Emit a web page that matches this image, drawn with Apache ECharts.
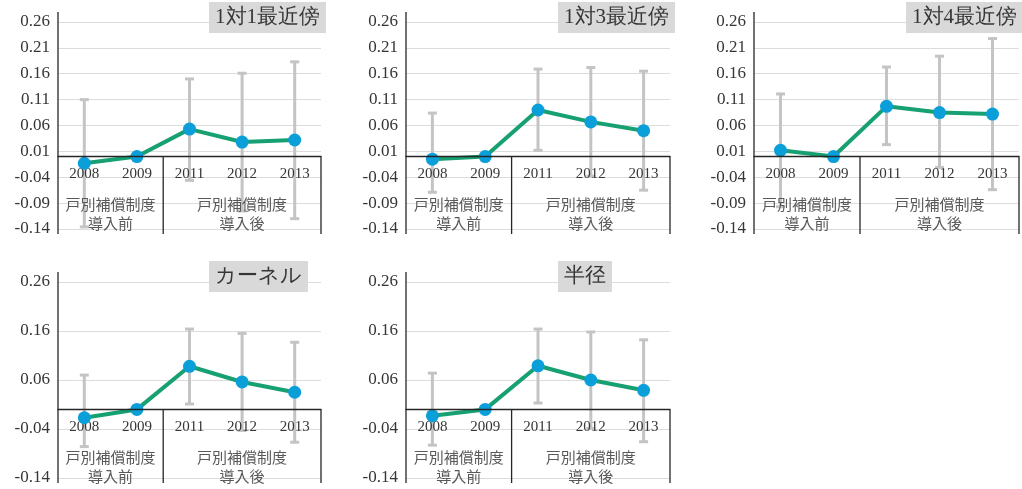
<!DOCTYPE html>
<html>
<head>
<meta charset="utf-8">
<script src="https://cdn.jsdelivr.net/npm/echarts@6/dist/echarts.min.js"></script>
<style>
  html, body { margin: 0; padding: 0; background: #ffffff; }
  #chart { width: 1022px; height: 489px; }
</style>
</head>
<body>
<div id="chart"></div>
<script>
// Survey years (2010 is not part of the comparison)
const years = ['2008', '2009', '2011', '2012', '2013'];

// Period groups shown under the year labels: [first year index, last year index, label]
const periods = [
  [0, 1, '戸別補償制度\n導入前'],
  [2, 4, '戸別補償制度\n導入後']
];

// Panel titles (matching methods)
const titles = ['1対1最近傍', '1対3最近傍', '1対4最近傍', 'カーネル', '半径'];

// Value-axis ranges: [min, max, interval]
const rangeTop = [-0.14, 0.26, 0.05];
const rangeBottom = [-0.14, 0.26, 0.10];

// Estimates and confidence bounds per method (2009 is the reference year)
const estNN1 = [-0.013, 0, 0.053, 0.028, 0.032];
const lowNN1 = [-0.136, null, -0.046, -0.105, -0.120];
const highNN1 = [0.110, null, 0.150, 0.161, 0.183];

const estNN3 = [-0.005, 0, 0.090, 0.067, 0.050];
const lowNN3 = [-0.069, null, 0.012, -0.038, -0.065];
const highNN3 = [0.084, null, 0.169, 0.172, 0.165];

const estNN4 = [0.012, 0, 0.097, 0.085, 0.082];
const lowNN4 = [-0.097, null, 0.023, -0.021, -0.064];
const highNN4 = [0.121, null, 0.173, 0.194, 0.228];

const estKernel = [-0.017, 0, 0.088, 0.056, 0.035];
const lowKernel = [-0.076, null, 0.011, -0.043, -0.067];
const highKernel = [0.070, null, 0.164, 0.155, 0.137];

const estRadius = [-0.013, 0, 0.089, 0.060, 0.039];
const lowRadius = [-0.073, null, 0.013, -0.039, -0.066];
const highRadius = [0.074, null, 0.164, 0.158, 0.142];

const panels = [
  { est: estNN1, low: lowNN1, high: highNN1, range: rangeTop },
  { est: estNN3, low: lowNN3, high: highNN3, range: rangeTop },
  { est: estNN4, low: lowNN4, high: highNN4, range: rangeTop },
  { est: estKernel, low: lowKernel, high: highKernel, range: rangeBottom },
  { est: estRadius, low: lowRadius, high: highRadius, range: rangeBottom }
];

// Layout of the five plot areas
const grids = [
  { left: 58, top: 22, width: 263, height: 207 },
  { left: 406, top: 22, width: 264, height: 207 },
  { left: 754, top: 22, width: 265, height: 207 },
  { left: 58, top: 282, width: 263, height: 196 },
  { left: 406, top: 282, width: 264, height: 196 }
];
const titlePos = [
  { left: 209, top: 2 },
  { left: 558, top: 2 },
  { left: 906, top: 2 },
  { left: 209, top: 261 },
  { left: 558, top: 261 }
];

const SERIF = 'Liberation Serif';
const GOTHIC = 'Noto Sans CJK JP';
const TEXT = '#363636';
const LINE_GREEN = '#17a071';
const DOT_BLUE = '#0b9fda';
const BAR_GRAY = '#c4c4c4';
const RULE = '#262626';

const chart = echarts.init(document.getElementById('chart'), null, { renderer: 'canvas' });

// Error bar: vertical whisker with short caps
function renderErrorBar(params, api) {
  const i = api.value(0);
  const top = api.coord([i, api.value(2)]);
  const bot = api.coord([i, api.value(1)]);
  const cap = 4.5;
  const style = { stroke: BAR_GRAY, lineWidth: 3 };
  return {
    type: 'group',
    children: [
      { type: 'line', shape: { x1: top[0], y1: top[1], x2: bot[0], y2: bot[1] }, style },
      { type: 'line', shape: { x1: top[0] - cap, y1: top[1], x2: top[0] + cap, y2: top[1] }, style },
      { type: 'line', shape: { x1: bot[0] - cap, y1: bot[1], x2: bot[0] + cap, y2: bot[1] }, style }
    ]
  };
}

// Year captions hanging just under the zero line
function renderYear(params, api) {
  const p = api.coord([api.value(0), 0]);
  return {
    type: 'text',
    x: p[0],
    y: p[1] + 18,
    style: {
      text: years[api.value(0)],
      fill: TEXT,
      font: '15px ' + SERIF,
      align: 'center',
      verticalAlign: 'middle'
    }
  };
}

// Period table under the zero line: box rules and group captions
function renderPeriods(params, api) {
  const band = api.size([1, 0])[0];
  const cs = params.coordSys;
  const left = api.coord([api.value(0), 0])[0] - band / 2;
  const right = api.coord([api.value(1), 0])[0] + band / 2;
  const zeroY = api.coord([0, 0])[1];
  const bottom = cs.y + cs.height + 5;
  const rule = { stroke: RULE, lineWidth: 1.3 };
  const children = [];
  if (params.dataIndex === 0) {
    // value-axis rule, running a little past both ends of the plot
    children.push({ type: 'line', shape: { x1: left, y1: cs.y - 10, x2: left, y2: bottom }, style: rule });
  }
  children.push({ type: 'line', shape: { x1: right, y1: zeroY, x2: right, y2: bottom }, style: rule });
  children.push({
    type: 'text',
    x: (left + right) / 2,
    y: zeroY + 57,
    style: {
      text: api.value(2),
      fill: '#595959',
      font: '15px ' + GOTHIC,
      align: 'center',
      verticalAlign: 'middle',
      lineHeight: 19
    }
  });
  return { type: 'group', children };
}

const option = {
  backgroundColor: '#ffffff',
  animation: false,
  title: titles.map((t, k) => ({
    text: t,
    left: titlePos[k].left,
    top: titlePos[k].top,
    backgroundColor: '#d9d9d9',
    padding: [5, 6, 5, 6],
    textStyle: { fontFamily: SERIF, fontSize: 21, fontWeight: 'normal', color: TEXT }
  })),
  grid: grids.map(g => Object.assign({ containLabel: false, outerBoundsMode: 'none' }, g)),
  xAxis: panels.map((p, k) => ({
    type: 'category',
    gridIndex: k,
    data: years,
    boundaryGap: true,
    axisLine: { onZero: true, lineStyle: { color: RULE, width: 1.3 } },
    axisTick: { show: false },
    axisLabel: { show: false },
    splitLine: { show: false },
    z: 5
  })),
  yAxis: panels.map((p, k) => ({
    type: 'value',
    gridIndex: k,
    min: p.range[0],
    max: p.range[1],
    interval: p.range[2],
    axisLine: { show: false },
    axisTick: { show: false },
    axisLabel: {
      color: TEXT,
      fontFamily: SERIF,
      fontSize: 17,
      margin: 8,
      formatter: v => v.toFixed(2)
    },
    splitLine: { show: true, lineStyle: { color: '#dcdcdc', width: 1 } }
  })),
  series: []
};

panels.forEach((p, k) => {
  option.series.push({
    type: 'custom',
    xAxisIndex: k,
    yAxisIndex: k,
    clip: false,
    z: 1,
    renderItem: renderErrorBar,
    data: years.map((y, i) => [i, p.low[i], p.high[i]]).filter(d => d[1] !== null)
  });
  option.series.push({
    type: 'custom',
    xAxisIndex: k,
    yAxisIndex: k,
    clip: false,
    z: 3,
    renderItem: renderPeriods,
    data: periods
  });
  option.series.push({
    type: 'custom',
    xAxisIndex: k,
    yAxisIndex: k,
    clip: false,
    z: 3,
    renderItem: renderYear,
    data: years.map((y, i) => [i, 0])
  });
  option.series.push({
    type: 'line',
    xAxisIndex: k,
    yAxisIndex: k,
    data: p.est,
    z: 4,
    symbol: 'circle',
    symbolSize: 13,
    lineStyle: { color: LINE_GREEN, width: 4 },
    itemStyle: { color: DOT_BLUE },
    emphasis: { disabled: true }
  });
});

chart.setOption(option);
</script>
</body>
</html>
